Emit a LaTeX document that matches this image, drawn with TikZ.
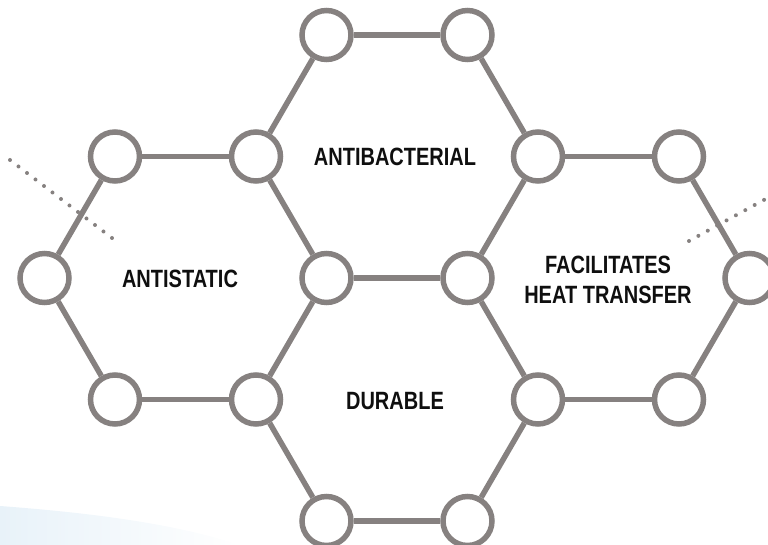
\documentclass[tikz,border=0pt]{standalone}
\usepackage{fontspec}
\newfontfamily\labfont{Liberation Sans}[FakeStretch=0.80]
\definecolor{hexgray}{RGB}{134,129,128}
\definecolor{txt}{RGB}{15,15,15}
\definecolor{wash}{RGB}{232,242,249}
\begin{document}
\begin{tikzpicture}[x=1pt,y=-1pt,
  atom/.style={circle,draw=hexgray,line width=5.5pt,fill=white,minimum size=49pt,inner sep=0pt},
  bond/.style={draw=hexgray,line width=5.5pt},
  dotline/.style={draw=hexgray,line width=4pt,line cap=round,dash pattern=on 0pt off 10.7pt},
  hextext/.style={font=\labfont\bfseries\fontsize{25}{30}\selectfont,text=txt,align=center,inner sep=0pt}]
\useasboundingbox (0,0) rectangle (768,545);
% faint wash bottom left
\shade[left color=wash,right color=white] (0,506) .. controls (80,512) and (170,522) .. (240,545) -- (0,545) -- cycle;
% dotted pointers
\coordinate (p1a) at (10,160);
\coordinate (p1b) at (112,238);
\coordinate (p2a) at (689,241);
\coordinate (p2b) at (782,190);
\draw[dotline] (p1a) -- (p1b);
\draw[dotline] (p2a) -- (p2b);
% atoms
\node[atom] (t1) at (326.5,35) {};
\node[atom] (t2) at (467.5,35) {};
\node[atom] (b1) at (115,156.5) {};
\node[atom] (c1) at (256,156.5) {};
\node[atom] (f1) at (538,156.5) {};
\node[atom] (g1) at (679,156.5) {};
\node[atom] (a2) at (44.5,278) {};
\node[atom] (d2) at (326.5,278) {};
\node[atom] (e2) at (467.5,278) {};
\node[atom] (h2) at (749.5,278) {};
\node[atom] (b3) at (115,399.5) {};
\node[atom] (c3) at (256,399.5) {};
\node[atom] (f3) at (538,399.5) {};
\node[atom] (g3) at (679,399.5) {};
\node[atom] (d4) at (326.5,521) {};
\node[atom] (e4) at (467.5,521) {};
% bonds
\foreach \u/\v in {t1/t2,t2/f1,f1/e2,e2/d2,d2/c1,c1/t1,b1/c1,d2/c3,c3/b3,b3/a2,a2/b1,
  f1/g1,g1/h2,h2/g3,g3/f3,f3/e2,f3/e4,e4/d4,d4/c3}
  \draw[bond] (\u) -- (\v);
% labels
\node[hextext] (l1) at (395,157) {ANTIBACTERIAL};
\node[hextext] (l2) at (180,279) {ANTISTATIC};
\node[hextext] (l3) at (608,280) {FACILITATES\\HEAT TRANSFER};
\node[hextext] (l4) at (395,401) {DURABLE};
\end{tikzpicture}
\end{document}
